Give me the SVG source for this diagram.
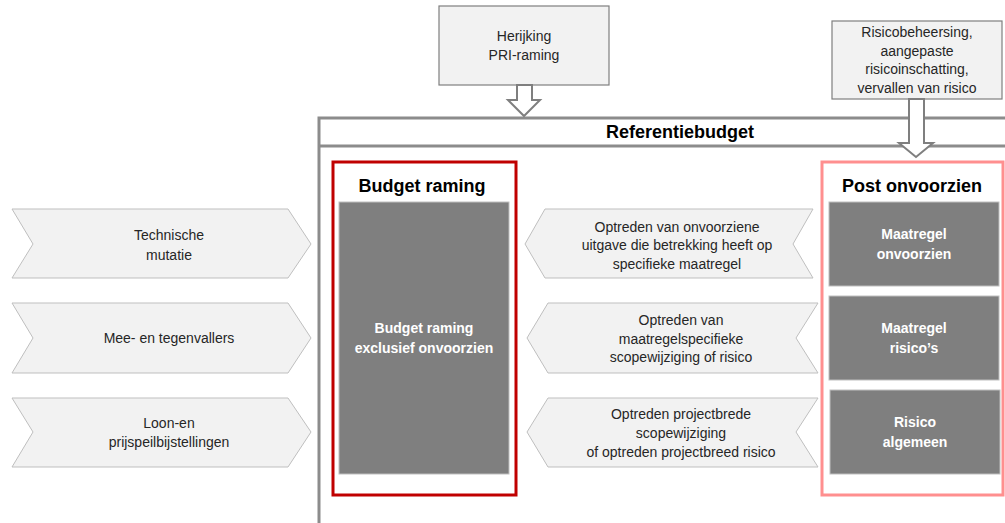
<svg xmlns="http://www.w3.org/2000/svg" width="1005" height="523" viewBox="0 0 1005 523">
<defs>
<style>
text{font-family:"Liberation Sans",Arial,sans-serif;text-anchor:middle;}
.t{font-size:14px;fill:#262626;}
.w{font-size:14px;fill:#ffffff;font-weight:bold;}
.h{font-size:18px;fill:#000000;font-weight:bold;}
.chev{fill:#F2F2F2;stroke:#BFBFBF;stroke-width:1;}
.box{fill:#F2F2F2;stroke:#7F7F7F;stroke-width:1.2;}
.dark{fill:#7F7F7F;stroke:#BFBFBF;stroke-width:1;}
.harrow{fill:#ffffff;stroke:#7F7F7F;stroke-width:2;}
</style>
</defs>
<rect width="1005" height="523" fill="#ffffff"/>

<g id="referentiebudget">
<rect x="319" y="118" width="700" height="420" fill="#ffffff" stroke="#8C8C8C" stroke-width="3"/>
<line x1="319" y1="146" x2="1010" y2="146" stroke="#8C8C8C" stroke-width="3"/>
<text class="h" x="680" y="138">Referentiebudget</text>
</g>

<g id="budget-raming">
<rect x="333" y="162" width="183" height="333" fill="#ffffff" stroke="#C00000" stroke-width="3"/>
<text class="h" x="422" y="192">Budget raming</text>
<rect class="dark" x="339" y="202" width="170" height="272"/>
<text class="w" x="424" y="333">Budget raming</text>
<text class="w" x="424" y="353">exclusief onvoorzien</text>
</g>

<g id="post-onvoorzien">
<rect x="822" y="162" width="181" height="333" fill="#ffffff" stroke="#FF8F8F" stroke-width="3"/>
<text class="h" x="912" y="192">Post onvoorzien</text>
<g id="maatregel-onvoorzien">
<rect class="dark" x="829" y="202" width="170" height="84"/>
<text class="w" x="914" y="239">Maatregel</text>
<text class="w" x="914" y="259">onvoorzien</text>
</g>
<g id="maatregel-risicos">
<rect class="dark" x="829" y="296" width="170" height="84"/>
<text class="w" x="914" y="333">Maatregel</text>
<text class="w" x="914" y="353">risico’s</text>
</g>
<g id="risico-algemeen">
<rect class="dark" x="830" y="390" width="170" height="84"/>
<text class="w" x="915" y="427">Risico</text>
<text class="w" x="915" y="447">algemeen</text>
</g>
</g>

<g id="herijking">
<rect class="box" x="439" y="6" width="170" height="79"/>
<text class="t" x="524" y="41">Herijking</text>
<text class="t" x="524" y="60">PRI-raming</text>
</g>

<g id="risicobeheersing">
<rect class="box" x="832" y="21" width="170" height="78"/>
<text class="t" x="917" y="37">Risicobeheersing,</text>
<text class="t" x="917" y="56">aangepaste</text>
<text class="t" x="917" y="74">risicoinschatting,</text>
<text class="t" x="917" y="93">vervallen van risico</text>
</g>

<g id="technische-mutatie">
<polygon class="chev" points="12,209 288,209 311,244 288,278 12,278 33,244"/>
<text class="t" x="169" y="240">Technische</text>
<text class="t" x="169" y="260">mutatie</text>
</g>
<g id="mee-tegenvallers">
<polygon class="chev" points="12,303 288,303 311,338 288,373 12,373 33,338"/>
<text class="t" x="169" y="343">Mee- en tegenvallers</text>
</g>
<g id="loon-prijs">
<polygon class="chev" points="12,398 288,398 311,432 288,467 12,467 33,432"/>
<text class="t" x="169" y="428">Loon-en</text>
<text class="t" x="169" y="447">prijspeilbijstellingen</text>
</g>

<g id="onvoorziene-uitgave">
<polygon class="chev" points="545,209 813,209 793,244 813,278 545,278 525,244"/>
<text class="t" x="677" y="232">Optreden van onvoorziene</text>
<text class="t" x="677" y="250">uitgave die betrekking heeft op</text>
<text class="t" x="677" y="269">specifieke  maatregel</text>
</g>
<g id="maatregelspecifieke">
<polygon class="chev" points="548,303 818,303 796,338 818,373 548,373 527,338"/>
<text class="t" x="681" y="325">Optreden van</text>
<text class="t" x="681" y="344">maatregelspecifieke</text>
<text class="t" x="681" y="362">scopewijziging of risico</text>
</g>
<g id="projectbrede">
<polygon class="chev" points="548,398 818,398 796,432 818,467 548,467 527,432"/>
<text class="t" x="681" y="419">Optreden projectbrede</text>
<text class="t" x="681" y="438">scopewijziging</text>
<text class="t" x="681" y="457">of optreden projectbreed risico</text>
</g>

<g id="connectors">
<polygon class="harrow" points="517,85 532,85 532,100 540,100 524,116 508,100 517,100"/>
<polygon class="harrow" points="909,99 924,99 924,143 933,143 916,157 899,143 909,143"/>
</g>
</svg>
